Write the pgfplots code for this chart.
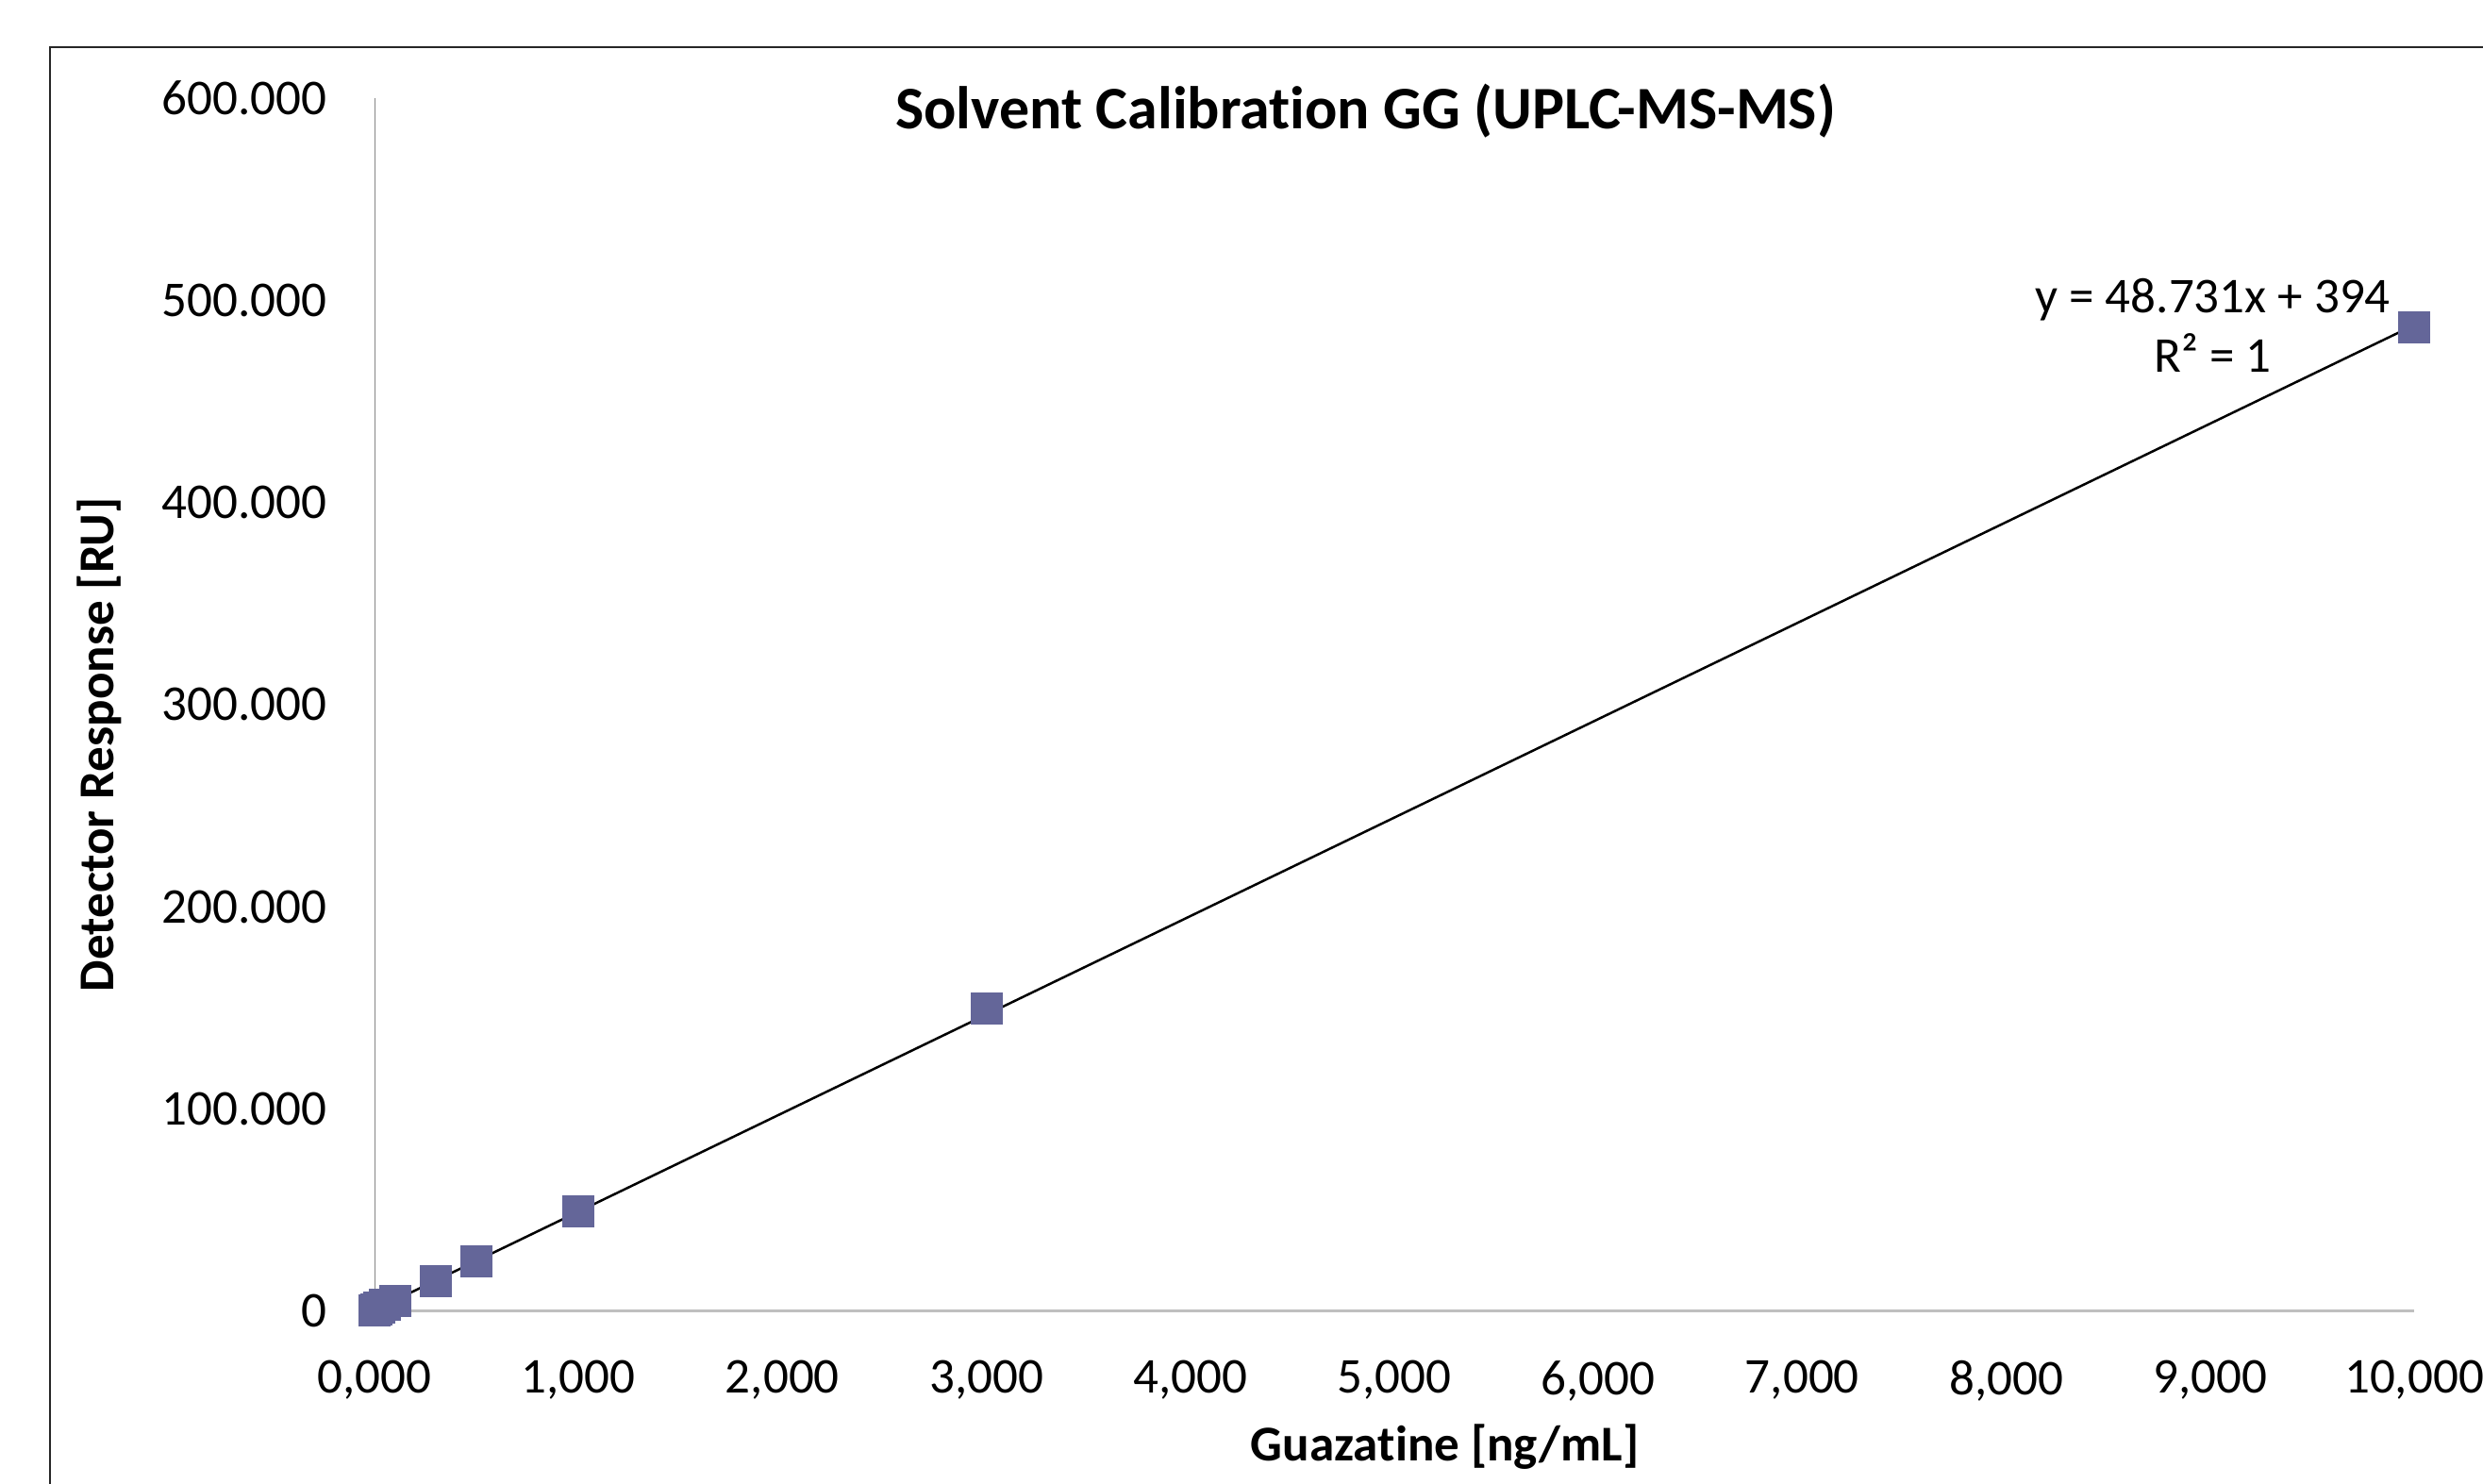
\documentclass[border=0pt]{standalone}
\usepackage{fontspec}
\setmainfont{Carlito}[Ligatures=NoCommon]
\usepackage{pgfplots}
\pgfplotsset{compat=1.18}
\definecolor{mk}{RGB}{100,102,153}
\definecolor{xax}{RGB}{191,191,191}
\definecolor{yax}{RGB}{134,134,134}
\begin{document}
\begin{tikzpicture}
\useasboundingbox (0,0) rectangle (263.2mm,157.3mm);
\draw[line width=0.25mm, black!85] (5.3mm,-3mm) -- (5.3mm,152.3mm) -- (268mm,152.3mm);
\begin{axis}[
  at={(39.7mm,18.35mm)}, anchor=south west,
  scale only axis, width=216.2mm, height=128.55mm,
  xmin=0, xmax=10000, ymin=0, ymax=600000,
  clip=false,
  axis x line=bottom, axis y line=left,
  axis line style={-},
  x axis line style={-, draw=xax, line width=0.25mm},
  y axis line style={-, draw=yax, line width=0.1mm},
  major tick length=0pt,
  scaled ticks=false,
  xtick={0,1000,2000,3000,4000,5000,6000,7000,8000,9000,10000},
  xticklabels={{0,000},{1,000},{2,000},{3,000},{4,000},{5,000},{6,000},{7,000},{8,000},{9,000},{10,000}},
  ytick={0,100000,200000,300000,400000,500000,600000},
  yticklabels={0,100.000,200.000,300.000,400.000,500.000,600.000},
  tick label style={font=\fontsize{15.1}{18}\selectfont, inner sep=0pt},
  yticklabel style={anchor=east, xshift=-5mm},
  xticklabel style={anchor=north, yshift=-5.2mm},
  title={Solvent Calibration GG (UPLC-MS-MS)},
  title style={at={(axis description cs:0.4859,0.958)}, anchor=base, font=\bfseries\fontsize{18.2}{22}\selectfont, inner sep=0pt},
  xlabel={Guazatine [ng/mL]},
  xlabel style={at={(axis description cs:0.5248,-0.1234)}, anchor=base, font=\bfseries\fontsize{15.1}{18}\selectfont, inner sep=0pt},
  ylabel={Detector Response [RU]},
  ylabel style={at={(axis description cs:-0.1351,0.467)}, anchor=center, rotate=0, font=\bfseries\fontsize{15.1}{18}\selectfont, inner sep=0pt},
]
\addplot[only marks, mark=square*, mark size=1.65mm, mark options={fill=mk, draw=mk, line width=0pt}] coordinates {
  (0,0) (10,500) (25,1500) (50,2900) (100,4800) (300,14850) (500,24650) (1000,49300) (3000,149700) (10000,486400)
};
\addplot[black, line width=0.25mm] coordinates {(0,394) (10000,487704)};
\node[anchor=base, inner sep=0pt, font=\fontsize{15.1}{18}\selectfont] at (axis description cs:0.9013,0.8229) {y = 48.731x + 394};
\node[anchor=base, inner sep=0pt, font=\fontsize{15.1}{18}\selectfont] at (axis description cs:0.9013,0.7744) {R² = 1};
\end{axis}
\end{tikzpicture}
\end{document}
